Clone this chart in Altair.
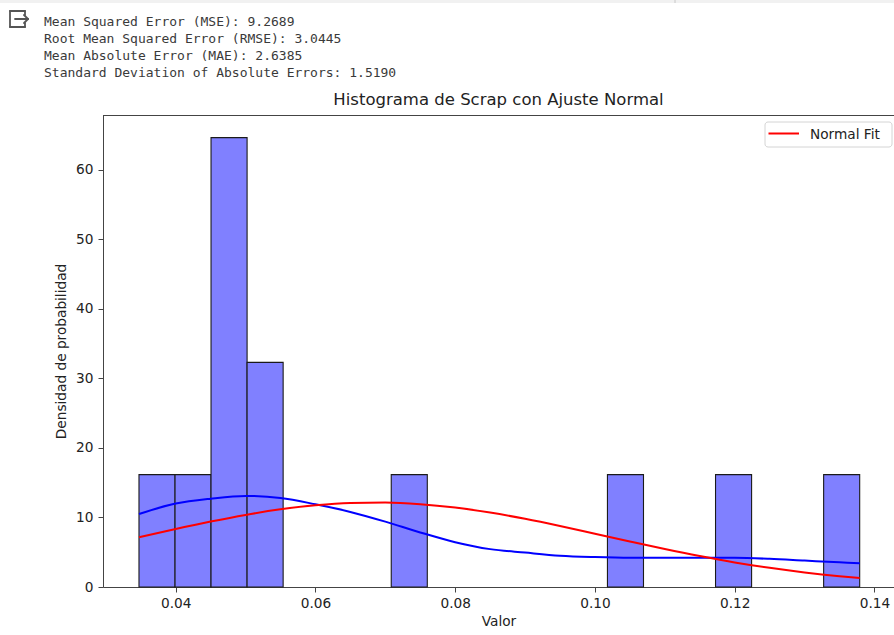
import altair as alt
import pandas as pd

# Histogram bins of the scrap values (density scale) and the two overlaid curves
bin_edges = [0.03475, 0.03991, 0.04506, 0.05022, 0.05538, 0.06054, 0.06569,
             0.07085, 0.07601, 0.08116, 0.08632, 0.09148, 0.09663, 0.10179,
             0.10695, 0.11211, 0.11726, 0.12242, 0.12758, 0.13273, 0.13789]
bin_density = [16.16, 16.16, 64.65, 32.32, 0, 0, 0, 16.16, 0, 0,
               0, 0, 0, 16.16, 0, 0, 16.16, 0, 0, 16.16]

curve_x = [0.03475, 0.040, 0.045, 0.050, 0.055, 0.060, 0.065, 0.070, 0.075,
           0.080, 0.085, 0.090, 0.095, 0.100, 0.105, 0.110, 0.115, 0.120,
           0.125, 0.130, 0.135, 0.13789]
kde_y = [10.5, 12.0, 12.7, 13.1, 12.8, 11.9, 10.8, 9.4, 7.85,
         6.45, 5.45, 4.95, 4.5, 4.3, 4.2, 4.2, 4.22, 4.2,
         4.05, 3.8, 3.55, 3.4]
normal_y = [7.15, 8.34, 9.41, 10.37, 11.17, 11.76, 12.09, 12.15, 11.92,
            11.43, 10.71, 9.81, 8.78, 7.67, 6.55, 5.46, 4.45, 3.54,
            2.76, 2.10, 1.56, 1.30]

metric_lines = [
    "Mean Squared Error (MSE): 9.2689",
    "Root Mean Squared Error (RMSE): 3.0445",
    "Mean Absolute Error (MAE): 2.6385",
    "Standard Deviation of Absolute Errors: 1.5190",
]
chart_title = "Histograma de Scrap con Ajuste Normal"
legend_label = "Normal Fit"

bars = pd.DataFrame({"start": bin_edges[:-1], "end": bin_edges[1:],
                     "density": bin_density})
curves = pd.DataFrame({"valor": curve_x, "kde": kde_y, "normal": normal_y})
anchor = pd.DataFrame({"k": [0]})

W, H = 791, 472
FONT = "DejaVu Sans"
INK = "#222222"
SPINE = "#444444"

x_scale = alt.Scale(domain=[0.0296, 0.1428], nice=False, zero=False)
y_scale = alt.Scale(domain=[0, 67.9], nice=False, zero=False)
x_axis = alt.Axis(values=[0.04, 0.06, 0.08, 0.10, 0.12, 0.14], format=".2f",
                  labelPadding=4, titlePadding=5, labelFlush=False)
y_axis = alt.Axis(values=[0, 10, 20, 30, 40, 50, 60], format="d",
                  labelPadding=5, titlePadding=7)

hist = alt.Chart(bars).transform_filter("datum.density > 0").mark_rect(
    fill="#8080ff", stroke="#1a1a1a", strokeWidth=1.1
).encode(
    x=alt.X("start:Q", scale=x_scale, axis=x_axis, title="Valor"),
    x2="end:Q",
    y=alt.Y("density:Q", scale=y_scale, axis=y_axis,
            title="Densidad de probabilidad"),
    y2=alt.datum(0),
)

kde = alt.Chart(curves).mark_line(
    color="blue", strokeWidth=2, interpolate="monotone"
).encode(
    x=alt.X("valor:Q", scale=x_scale, axis=x_axis, title="Valor"),
    y=alt.Y("kde:Q", scale=y_scale, axis=y_axis,
            title="Densidad de probabilidad"),
)

normal = alt.Chart(curves).mark_line(
    color="red", strokeWidth=2, interpolate="monotone"
).encode(
    x=alt.X("valor:Q", scale=x_scale, axis=x_axis, title="Valor"),
    y=alt.Y("normal:Q", scale=y_scale, axis=y_axis,
            title="Densidad de probabilidad"),
)

# legend box for the normal fit, top-right corner of the axes
legend_box = alt.Chart(anchor).mark_rect(
    fill="white", stroke="#d4d4d4", strokeWidth=1, cornerRadius=3
).encode(x=alt.value(662), x2=alt.value(789), y=alt.value(7),
         y2=alt.value(32))
legend_line = alt.Chart(anchor).mark_rule(color="red", strokeWidth=2).encode(
    x=alt.value(665.5), x2=alt.value(696), y=alt.value(18.5)
)
legend_text = alt.Chart(anchor).mark_text(
    align="left", baseline="middle", font=FONT, fontSize=13.7, color=INK
).encode(x=alt.value(707), y=alt.value(19.5), text=alt.value(legend_label))

# top spine of the axes box
top_spine = alt.Chart(anchor).mark_rule(color=SPINE, strokeWidth=1).encode(
    x=alt.value(0), x2=alt.value(W), y=alt.value(0.5)
)

# chart title, centred over the plot area
title_mark = alt.Chart(anchor).mark_text(
    align="center", baseline="alphabetic", font=FONT, fontSize=16.5,
    color=INK
).encode(x=alt.value(W / 2), y=alt.value(-10), text=alt.value(chart_title))

# notebook output header: printed metrics
header_layers = []
for i, line in enumerate(metric_lines):
    header_layers.append(
        alt.Chart(anchor).mark_text(
            align="left", baseline="alphabetic", font="DejaVu Sans Mono",
            fontSize=13, color="#3a3a3a"
        ).encode(x=alt.value(-59), y=alt.value(-89.5 + 17.25 * i),
                 text=alt.value(line))
    )

# output icon (box with an arrow leaving it)
icon_segments = [
    (-93, -104, -93, -88),   # left side
    (-93, -104, -78, -104),  # top
    (-93, -88, -78, -88),    # bottom
    (-78, -104, -78, -100),  # right side, upper part
    (-78, -92, -78, -88),    # right side, lower part
    (-88, -96, -75, -96),    # arrow shaft
    (-79, -100, -75, -96),   # arrow head
    (-79, -92, -75, -96),
]
icon_layers = [
    alt.Chart(anchor).mark_rule(color="#555555", strokeWidth=1.8,
                                strokeCap="round").encode(
        x=alt.value(a), y=alt.value(b), x2=alt.value(c), y2=alt.value(d))
    for a, b, c, d in icon_segments
]

top_band = alt.Chart(anchor).mark_rule(color="#f1f1f1", strokeWidth=3).encode(
    x=alt.value(-103), x2=alt.value(W), y=alt.value(-113.5)
)
top_tick = alt.Chart(anchor).mark_rule(color="#c8c8c8", strokeWidth=1).encode(
    x=alt.value(572), x2=alt.value(572), y=alt.value(-115), y2=alt.value(-112)
)

chart = alt.layer(
    hist, kde, normal, top_spine, legend_box, legend_line, legend_text,
    top_band, top_tick, title_mark, *header_layers, *icon_layers
).properties(
    width=W,
    height=H,
    autosize=alt.AutoSizeParams(type="none"),
    padding={"left": 103, "top": 115, "right": 0, "bottom": 48},
).configure_view(stroke=None).configure_axis(
    grid=False, domainColor=SPINE, tickColor=SPINE, domainWidth=1,
    tickWidth=1, tickSize=5, labelColor=INK, titleColor=INK,
    labelFont=FONT, titleFont=FONT, labelFontSize=13.7, titleFontSize=13.7,
    titleFontWeight="normal", labelOverlap=False,
)

chart.save("out.html", embed_options={"renderer": "svg", "actions": False})
